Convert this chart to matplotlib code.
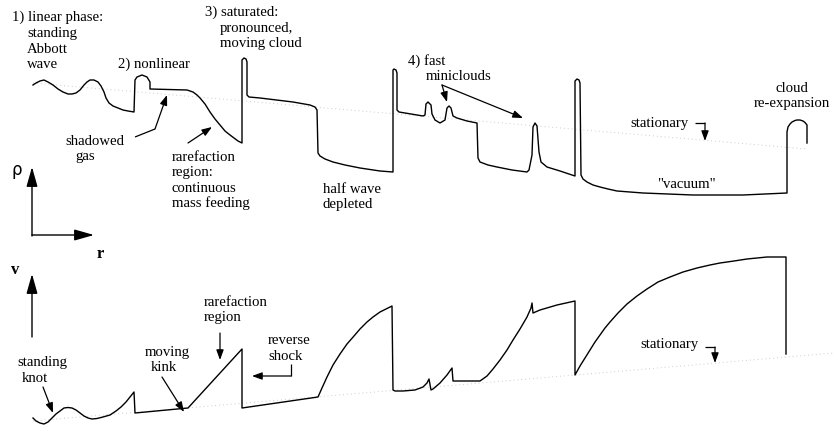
import matplotlib
matplotlib.use("Agg")
import matplotlib.pyplot as plt

# schematic drawn in picture units (x right, y down)
W, H = 834, 425

# density profile rho(r)
rho_x = [33, 36, 40, 44, 48, 53, 58, 63, 68, 72, 76, 80, 84, 87, 90, 94, 98, 101,
         104, 106, 109, 113, 118, 123, 128, 134,
         135, 137, 142, 147, 150, 150,
         187, 190, 193, 197, 200, 205, 210, 215, 220, 225, 230, 234, 238, 242,
         242, 244, 246, 247, 247, 249, 260, 293, 310, 315, 317,
         318, 320, 325, 333, 345, 360, 380, 393,
         393, 394, 396, 397, 397, 399, 423,
         425, 426, 428, 431, 432, 435, 440, 445, 447, 449, 451, 453, 457, 467, 477,
         478, 480, 488, 497, 512, 527, 529, 532, 533, 535, 537, 539, 541, 547, 560, 575,
         575, 577, 579, 580, 581, 583, 587, 593, 600, 608, 617, 630, 643, 668, 693,
         743, 787,
         787, 788, 790, 792, 795, 797, 800, 803, 805, 807, 807]
rho_y = [85, 83, 81, 80, 82, 85, 89, 92, 94, 94, 93, 90, 85, 82, 80, 80, 82, 86,
         92, 98, 103, 106, 108, 110, 111, 112,
         80, 77, 75, 77, 82, 89,
         90, 91, 92, 95, 98, 104, 112, 119, 125, 131, 135, 138, 141, 143,
         60, 58, 59, 62, 95, 97, 98, 102, 105, 107, 110,
         153, 156, 159, 162, 165, 168, 171, 172,
         70, 69, 70, 73, 110, 112, 116,
         115, 104, 102, 105, 114, 120, 123, 120, 108, 106, 108, 116, 118, 121, 123,
         158, 162, 165, 167, 170, 172, 170, 155, 127, 123, 126, 152, 162, 167, 171, 176,
         81, 79, 80, 83, 175, 179, 182, 185, 187, 189, 191, 192, 193, 194, 195,
         195, 193,
         132, 127, 124, 122, 120.5, 120, 120, 121, 122.5, 125, 143]

# velocity profile v(r)
v_x = [33, 36, 40, 44, 48, 52, 56, 60, 64, 68, 72, 76, 80, 84, 88, 92, 97, 103,
       110, 116, 121, 126, 130, 134,
       135, 188, 242, 242, 318,
       322, 327, 333, 340, 347, 354, 360, 367, 373, 380, 386, 392,
       393, 395, 403, 415, 423, 427, 429, 431, 433, 440, 447, 452, 453, 455, 480,
       487, 493, 500, 507, 513, 520, 527, 531, 532, 533, 540, 557, 575,
       575, 580, 585, 590, 595, 600, 605, 610, 618, 627, 637, 647, 658, 670, 683,
       697, 710, 720, 734, 747, 767, 786, 786]
v_y = [418, 421, 423, 424, 422, 418, 414, 411, 408, 407.5, 408, 410, 413, 416, 418,
       419, 418.5, 417, 415, 411, 407, 402, 397, 392,
       413, 408, 349, 408, 397,
       388, 377, 365, 354, 344, 336, 329, 322, 317, 312, 309, 306,
       390, 391, 391, 390, 387, 383, 379, 390, 389, 383, 375, 368, 381, 381, 381,
       376, 369, 360, 350, 340, 329, 317, 308, 303, 313, 310, 305, 301,
       375, 366, 358, 350, 342, 335, 328, 322, 313, 304, 296, 289, 282, 277, 272,
       268, 265, 263, 261, 259, 257, 257, 354]

# faint reference levels
rho_ref = ([33, 807], [83, 149])
v_ref = ([33, 834], [421, 353])

# labels: text, x, baseline y, ha
labels = [
    ("1) linear phase:", 12, 21, "left"),
    ("standing", 27, 37, "left"),
    ("Abbott", 27, 53, "left"),
    ("wave", 27, 68, "left"),
    ("2) nonlinear", 118, 68, "left"),
    ("3) saturated:", 205, 16, "left"),
    ("pronounced,", 220, 32, "left"),
    ("moving cloud", 220, 47, "left"),
    ("shadowed", 65, 145, "left"),
    ("gas", 75, 160, "left"),
    ("rarefaction", 172, 161, "left"),
    ("region:", 172, 176, "left"),
    ("continuous", 172, 192, "left"),
    ("mass feeding", 172, 207, "left"),
    ("half wave", 323, 193, "left"),
    ("depleted", 323, 208, "left"),
    ("4) fast", 408, 65, "left"),
    ("miniclouds", 426, 80, "left"),
    ("stationary", 630, 127, "left"),
    ('"vacuum"', 657, 188, "left"),
    ("cloud", 792, 92, "center"),
    ("re-expansion", 792, 107, "center"),
    ("standing", 17, 366, "left"),
    ("knot", 22, 382, "left"),
    ("moving", 145, 356, "left"),
    ("kink", 151, 371, "left"),
    ("rarefaction", 204, 306, "left"),
    ("region", 204, 321, "left"),
    ("reverse", 268, 344, "left"),
    ("shock", 268, 360, "left"),
    ("stationary", 640, 348, "left"),
]

# pointer arrows: polyline, last point is the tip
pointers = [
    [(135, 137), (155, 129), (167, 95)],
    [(188, 143), (212, 127)],
    [(442, 85), (447, 102)],
    [(442, 85), (523, 118)],
    [(695, 123), (705, 123), (705, 141)],
    [(43, 387), (53, 413)],
    [(162, 377), (184, 412)],
    [(220, 333), (220, 360)],
    [(291, 364), (291, 376), (252, 376)],
    [(705, 347), (715, 347), (715, 363)],
]

# coordinate axes arrows
axes_arrows = [
    [(32, 236), (32, 167)],
    [(32, 235), (94, 235)],
    [(32, 337), (32, 274)],
]

fig = plt.figure(figsize=(W / 100, H / 100), dpi=100)
ax = fig.add_axes([0, 0, 1, 1])
ax.set_xlim(0, W)
ax.set_ylim(H, 0)
ax.axis("off")

ax.plot(*rho_ref, color="#cccccc", lw=0.7, ls=(0, (1, 3)))
ax.plot(*v_ref, color="#cccccc", lw=0.7, ls=(0, (1, 3)))
ax.plot(rho_x, rho_y, color="black", lw=1.0, solid_joinstyle="round")
ax.plot(v_x, v_y, color="black", lw=1.0, solid_joinstyle="round")

serif = "Liberation Serif"
for txt, x, y, ha in labels:
    ax.text(x, y, txt, ha=ha, va="baseline", fontsize=10.6, family=serif)


def arrow(pts, scale, hl, hw, lw):
    if len(pts) > 2:
        xs = [p[0] for p in pts[:-1]]
        ys = [p[1] for p in pts[:-1]]
        ax.plot(xs, ys, color="black", lw=lw, solid_capstyle="butt")
    ax.annotate("", xy=pts[-1], xytext=pts[-2],
                arrowprops=dict(arrowstyle=f"-|>,head_length={hl},head_width={hw}",
                                mutation_scale=scale, color="black", lw=lw,
                                shrinkA=0, shrinkB=0))


for pts in pointers:
    arrow(pts, 10, 0.6, 0.22, 0.9)
for pts in axes_arrows:
    arrow(pts, 20, 0.6, 0.17, 1.0)

ax.text(12, 175, "ρ", fontsize=12, family="DejaVu Sans", va="baseline")
ax.text(97, 258, "r", fontsize=12, family=serif, weight="bold", va="baseline")
ax.text(11, 274, "v", fontsize=12, family=serif, weight="bold", va="baseline")

fig.savefig("out.png", dpi=100)
